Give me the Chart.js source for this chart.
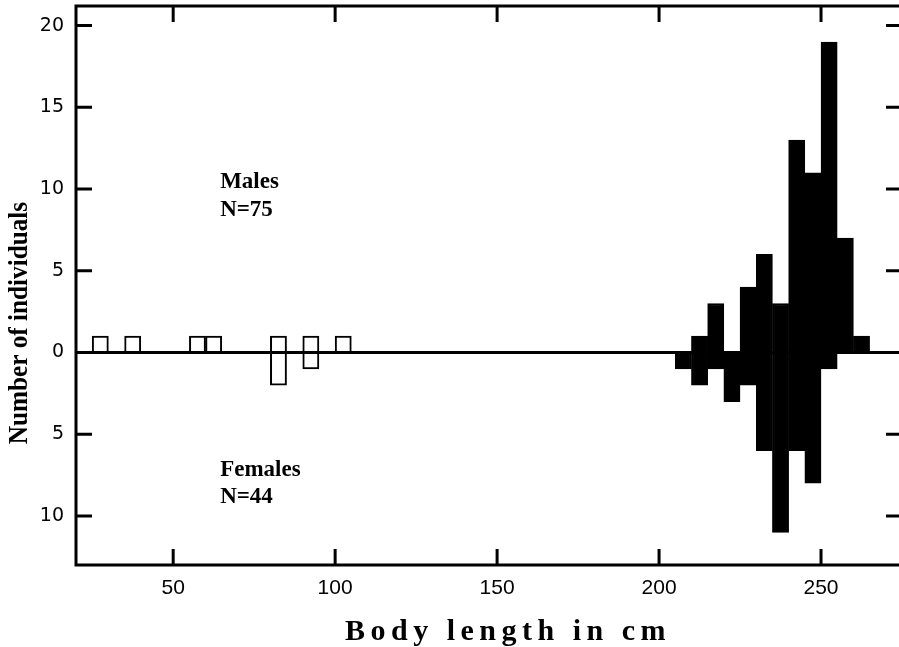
<!DOCTYPE html>
<html>
<head>
<meta charset="utf-8">
<script src="https://cdn.jsdelivr.net/npm/chart.js@4.4.1/dist/chart.umd.min.js"></script>
<style>
  html, body { margin: 0; padding: 0; background: #fff; overflow: hidden; }
  #wrap { width: 899px; height: 647px; position: relative; overflow: hidden; }
  #inner { width: 903px; height: 647px; position: relative; }
</style>
</head>
<body>
<div id="wrap"><div id="inner"><canvas id="myChart"></canvas></div></div>
<script>
// 5 cm length classes (start of each bin)
const binStarts = [25, 35, 55, 60, 80, 90, 100, 205, 210, 215, 220, 225, 230, 235, 240, 245, 250, 255, 260];
const males     = [1, 1, 1, 1, 1, 1, 1, 0, 1, 3, 0, 4, 6, 3, 13, 11, 19, 7, 1];
const females   = [0, 0, 0, 0, 2, 1, 0, 1, 2, 1, 3, 2, 6, 11, 6, 8, 1, 0, 0];
const binWidth = 5;

const xTicks = [50, 100, 150, 200, 250];
const yTicks = [-10, -5, 0, 5, 10, 15, 20];

const maleLabel = ['Males', 'N=75'];
const femaleLabel = ['Females', 'N=44'];
const xTitle = 'Body length in cm';
const yTitle = 'Number of individuals';

function barColor(ctx) {
    // the small early specimens are drawn as open boxes
    return ctx.raw && ctx.raw.x < 150 ? '#ffffff' : '#000000';
}

const frame = {
    id: 'frame',
    afterDatasetsDraw(chart) {
        const { ctx, chartArea: a, scales: { x, y } } = chart;
        ctx.save();
        ctx.strokeStyle = '#000';
        ctx.lineWidth = 3;
        // zero line
        const y0 = y.getPixelForValue(0);
        ctx.beginPath();
        ctx.moveTo(a.left, y0);
        ctx.lineTo(a.right, y0);
        ctx.stroke();
        // box
        ctx.strokeRect(a.left, a.top, a.right - a.left, a.bottom - a.top);
        // inward ticks all round
        const len = 16;
        ctx.beginPath();
        xTicks.forEach(v => {
            const px = x.getPixelForValue(v);
            ctx.moveTo(px, a.bottom); ctx.lineTo(px, a.bottom - len);
            ctx.moveTo(px, a.top); ctx.lineTo(px, a.top + len);
        });
        yTicks.forEach(v => {
            if (v === 0) return;
            const py = y.getPixelForValue(v);
            ctx.moveTo(a.left, py); ctx.lineTo(a.left + len, py);
            ctx.moveTo(a.right, py); ctx.lineTo(a.right - len, py);
        });
        ctx.stroke();
        ctx.restore();
    },
    afterDraw(chart) {
        const { ctx, scales: { x, y } } = chart;
        ctx.save();
        ctx.fillStyle = '#000';
        ctx.font = 'bold 23px "Liberation Serif", "Times New Roman", serif';
        ctx.textAlign = 'left';
        ctx.textBaseline = 'middle';
        const lx = x.getPixelForValue(64.5);
        let py = y.getPixelForValue(10.4);
        maleLabel.forEach((t, i) => ctx.fillText(t, lx, py + i * 28));
        py = y.getPixelForValue(-7.2);
        femaleLabel.forEach((t, i) => ctx.fillText(t, lx, py + i * 27));

        // y title, slightly condensed along the text
        ctx.save();
        ctx.translate(20, 323);
        ctx.rotate(-Math.PI / 2);
        ctx.scale(0.9, 1);
        ctx.font = 'bold 28px "Liberation Serif", "Times New Roman", serif';
        ctx.textAlign = 'center';
        ctx.fillText(yTitle, 0, 0);
        ctx.restore();

        // x title with wide letter spacing
        ctx.font = 'bold 30px "Liberation Serif", "Times New Roman", serif';
        ctx.letterSpacing = '5.5px';
        ctx.textAlign = 'center';
        ctx.textBaseline = 'alphabetic';
        ctx.fillText(xTitle, 508, 640);
        ctx.restore();
    }
};

new Chart(document.getElementById('myChart'), {
    type: 'bar',
    data: {
        datasets: [{
            label: 'Males',
            data: binStarts.map((b, i) => ({ x: b + binWidth / 2, y: males[i] })),
            stack: 'all',
            backgroundColor: barColor,
            borderColor: '#000',
            borderWidth: 2,
            barPercentage: 1,
            categoryPercentage: 1
        }, {
            label: 'Females',
            data: binStarts.map((b, i) => ({ x: b + binWidth / 2, y: -females[i] })),
            stack: 'all',
            backgroundColor: barColor,
            borderColor: '#000',
            borderWidth: 2,
            barPercentage: 1,
            categoryPercentage: 1
        }]
    },
    options: {
        responsive: true,
        maintainAspectRatio: false,
        animation: false,
        layout: { padding: { top: 6, right: 1, left: 0, bottom: 0 } },
        plugins: {
            legend: { display: false },
            tooltip: { enabled: false }
        },
        scales: {
            x: {
                type: 'linear',
                min: 20,
                max: 275,
                offset: false,
                grid: { display: false, drawTicks: false, offset: false },
                border: { display: false },
                afterBuildTicks: s => { s.ticks = xTicks.map(v => ({ value: v })); },
                afterFit: s => { s.height = 82; s.paddingLeft = 0; s.paddingRight = 0; },
                ticks: {
                    padding: 11,
                    color: '#000',
                    maxRotation: 0,
                    font: { family: '"Liberation Sans Narrow", "Liberation Sans", sans-serif', size: 21 }
                }
            },
            y: {
                min: -13,
                max: 21.2,
                grid: { display: false, drawTicks: false },
                border: { display: false },
                afterBuildTicks: s => { s.ticks = yTicks.map(v => ({ value: v })); },
                afterFit: s => { s.width = 76; s.paddingTop = 0; s.paddingBottom = 0; },
                ticks: {
                    padding: 12,
                    color: '#000',
                    callback: v => Math.abs(v),
                    font: { family: '"DejaVu Sans", sans-serif', size: 19 }
                },
                title: { display: false, text: yTitle }
            }
        }
    },
    plugins: [frame]
});
</script>
</body>
</html>
